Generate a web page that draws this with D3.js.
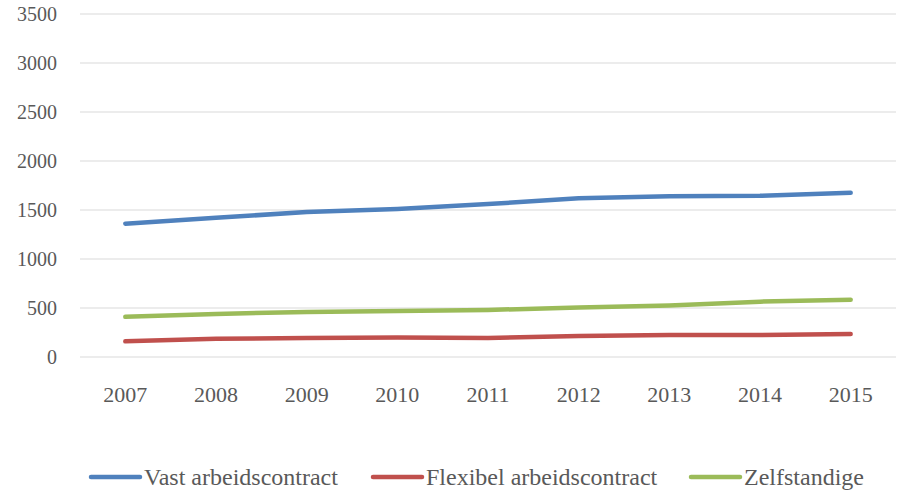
<!DOCTYPE html>
<html>
<head>
<meta charset="utf-8">
<script src="https://cdn.jsdelivr.net/npm/d3@7"></script>
<style>
  body { margin: 0; background: #fff; }
  text { font-family: "Liberation Serif", "DejaVu Serif", serif; fill: #595959; }
</style>
</head>
<body>
<svg id="chart" width="901" height="492"></svg>
<script>
const years = ["2007", "2008", "2009", "2010", "2011", "2012", "2013", "2014", "2015"];
const vast = [1360, 1420, 1480, 1510, 1560, 1620, 1640, 1645, 1675];
const flexibel = [160, 185, 195, 200, 195, 215, 225, 225, 235];
const zelfstandige = [410, 440, 460, 470, 480, 505, 525, 565, 585];
const yTicks = [0, 500, 1000, 1500, 2000, 2500, 3000, 3500];

const series = [
  { name: "Vast arbeidscontract", values: vast, color: "#4F81BD" },
  { name: "Flexibel arbeidscontract", values: flexibel, color: "#C0504D" },
  { name: "Zelfstandige", values: zelfstandige, color: "#9BBB59" }
];

const svg = d3.select("#chart");
const plotLeft = 80, plotRight = 896, plotTop = 14, plotBottom = 357;

const x = d3.scaleBand().domain(years).range([plotLeft, plotRight]);
const y = d3.scaleLinear().domain([0, 3500]).range([plotBottom, plotTop]);

// horizontal gridlines
svg.append("g")
  .selectAll("line")
  .data(yTicks)
  .join("line")
  .attr("x1", plotLeft).attr("x2", plotRight)
  .attr("y1", d => y(d)).attr("y2", d => y(d))
  .attr("stroke", "#D9D9D9")
  .attr("stroke-width", 1.2);

// y axis labels
const yAxis = svg.append("g")
  .attr("transform", `translate(${plotLeft - 23},0)`)
  .call(d3.axisLeft(y).tickValues(yTicks).tickFormat(d3.format("d")).tickSize(0).tickPadding(0));
yAxis.select(".domain").remove();
yAxis.selectAll("text")
  .style("font-family", '"Liberation Serif", serif')
  .style("font-size", "20px")
  .attr("fill", "#595959")
  .attr("dy", "0.32em");

// x axis labels
const xAxis = svg.append("g")
  .attr("transform", `translate(0,${plotBottom + 29})`)
  .call(d3.axisBottom(x).tickSize(0).tickPadding(0));
xAxis.select(".domain").remove();
xAxis.selectAll("text")
  .style("font-family", '"Liberation Serif", serif')
  .style("font-size", "22px")
  .attr("fill", "#595959");

// series lines
const line = d3.line()
  .x((d, i) => x(years[i]) + x.bandwidth() / 2)
  .y(d => y(d));

svg.append("g")
  .selectAll("path")
  .data(series)
  .join("path")
  .attr("d", s => line(s.values))
  .attr("fill", "none")
  .attr("stroke", s => s.color)
  .attr("stroke-width", 4.5)
  .attr("stroke-linecap", "round")
  .attr("stroke-linejoin", "round");

// legend
const legendX = [91, 373, 691];
const legend = svg.append("g")
  .selectAll("g")
  .data(series)
  .join("g")
  .attr("transform", (s, i) => `translate(${legendX[i]},477)`);
legend.append("line")
  .attr("x1", 0).attr("x2", 49)
  .attr("stroke", s => s.color)
  .attr("stroke-width", 4.5)
  .attr("stroke-linecap", "round");
legend.append("text")
  .attr("x", 53)
  .attr("y", 8)
  .attr("fill", "#595959")
  .style("font-size", "24px")
  .text(s => s.name);
</script>
</body>
</html>
